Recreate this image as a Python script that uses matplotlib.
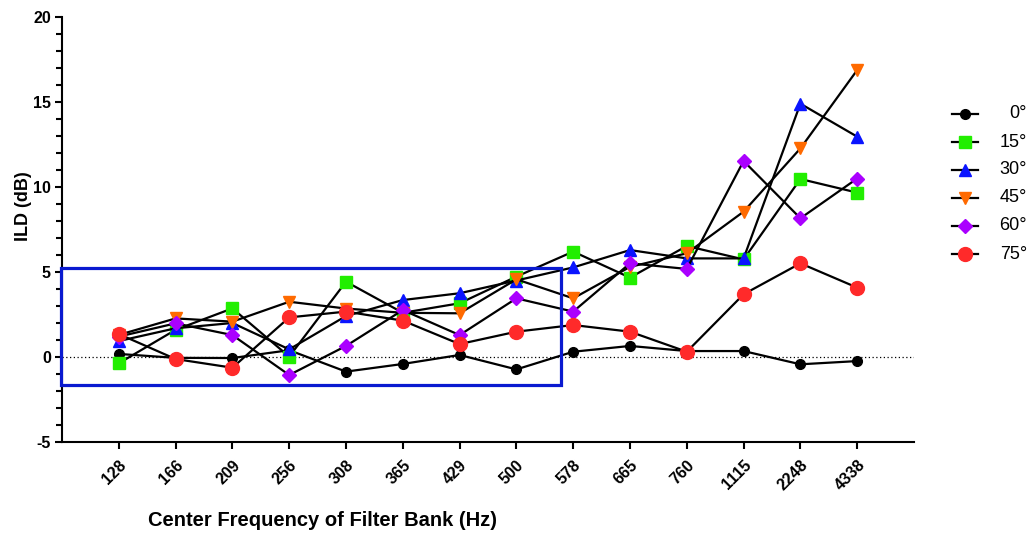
import matplotlib
matplotlib.use("Agg")
import matplotlib.pyplot as plt
from matplotlib.patches import Rectangle
from matplotlib.lines import Line2D
from matplotlib.ticker import MultipleLocator

plt.rcParams['font.family'] = ['Liberation Sans', 'DejaVu Sans']
plt.rcParams['axes.unicode_minus'] = False

freqs = ["128", "166", "209", "256", "308", "365", "429", "500",
         "578", "665", "760", "1115", "2248", "4338"]

ild_0 = [0.18, -0.05, -0.06, 0.4, -0.86, -0.41, 0.12, -0.73, 0.31, 0.65, 0.35, 0.35, -0.43, -0.24]
ild_15 = [-0.37, 1.6, 2.86, 0.02, 4.43, 2.6, 3.16, 4.73, 6.2, 4.67, 6.53, 5.74, 10.47, 9.67]
ild_30 = [0.94, 1.69, 2.0, 0.45, 2.41, 3.35, 3.75, 4.5, 5.27, 6.29, 5.8, 5.8, 14.9, 12.96]
ild_45 = [1.3, 2.27, 2.08, 3.25, 2.85, 2.6, 2.57, 4.57, 3.45, 5.3, 6.1, 8.55, 12.27, 16.88]
ild_60 = [1.2, 1.98, 1.29, -1.06, 0.65, 2.76, 1.29, 3.45, 2.67, 5.51, 5.18, 11.53, 8.16, 10.5]
ild_75 = [1.35, -0.12, -0.63, 2.33, 2.67, 2.14, 0.76, 1.49, 1.88, 1.49, 0.31, 3.69, 5.51, 4.08]

labels = ["0°", "15°", "30°", "45°", "60°", "75°"]
series = [ild_0, ild_15, ild_30, ild_45, ild_60, ild_75]
colors = ["#000000", "#22ee00", "#0a14ff", "#ff6a00", "#aa00ff", "#ff2a2a"]
markers = ["o", "s", "^", "v", "D", "o"]
msizes = [7, 8, 8, 8, 7, 10]

W, H = 1034, 537
fig = plt.figure(figsize=(W / 100, H / 100), dpi=100)
ax = fig.add_axes([62 / W, 1 - 442 / H, 852 / W, 425 / H])

x = list(range(len(freqs)))
ax.axhline(0, color="black", lw=0.9, ls=(0, (1, 2)), zorder=1)

for vals, lab, c, m, ms in zip(series, labels, colors, markers, msizes):
    ax.plot(x, vals, color="black", lw=1.6, marker=m, markersize=ms,
            markerfacecolor=c, markeredgecolor=c, label=lab, zorder=3)

ax.add_patch(Rectangle((-1.02, -1.65), 8.8, 6.9, fill=False, edgecolor="#0a1ad0",
                       lw=2.3, clip_on=False, zorder=4))

ax.set_xlim(-1, 14)
ax.set_ylim(-5, 20)
ax.set_xticks(x)
ax.set_xticklabels(freqs, rotation=45, fontsize=11.5, fontweight="bold",
                   ha="right", va="top", rotation_mode="anchor")
ax.yaxis.set_major_locator(MultipleLocator(5))
ax.yaxis.set_minor_locator(MultipleLocator(1))
for lbl in ax.get_yticklabels():
    lbl.set_fontweight("bold")
    lbl.set_fontsize(11.5)
ax.tick_params(axis="x", which="major", direction="out", length=5, width=1.5, pad=6)
ax.tick_params(axis="y", which="major", direction="out", length=5, width=1.5, pad=3)
ax.tick_params(axis="y", which="minor", direction="out", length=4, width=1.5)
ax.spines["top"].set_visible(False)
ax.spines["right"].set_visible(False)
ax.spines["left"].set_linewidth(1.5)
ax.spines["bottom"].set_linewidth(1.5)

ax.set_xlabel("Center Frequency of Filter Bank (Hz)", fontsize=14.5, fontweight="bold")
ax.xaxis.set_label_coords((322 - 62) / 852, (442 - 521) / 425)
ax.xaxis.label.set_va("center")
ax.set_ylabel("ILD (dB)", fontsize=13, fontweight="bold")
ax.yaxis.set_label_coords((24 - 62) / 852, (442 - 206) / 425)
ax.yaxis.label.set_va("center")

# legend drawn in figure pixel coordinates
row_y = [114, 142, 170, 198, 226, 254]
for yy, lab, c, m, ms in zip(row_y, labels, colors, markers, msizes):
    fy = 1 - yy / H
    fig.add_artist(Line2D([952 / W, 978 / W], [fy, fy], color="black", lw=1.6,
                          transform=fig.transFigure))
    fig.add_artist(Line2D([965 / W], [fy], marker=m, markersize=ms, color=c,
                          markerfacecolor=c, markeredgecolor=c, linestyle="none",
                          transform=fig.transFigure))
    fig.text(1027 / W, fy, lab, ha="right", va="center", fontsize=13)

fig.savefig("out.png", dpi=100)
